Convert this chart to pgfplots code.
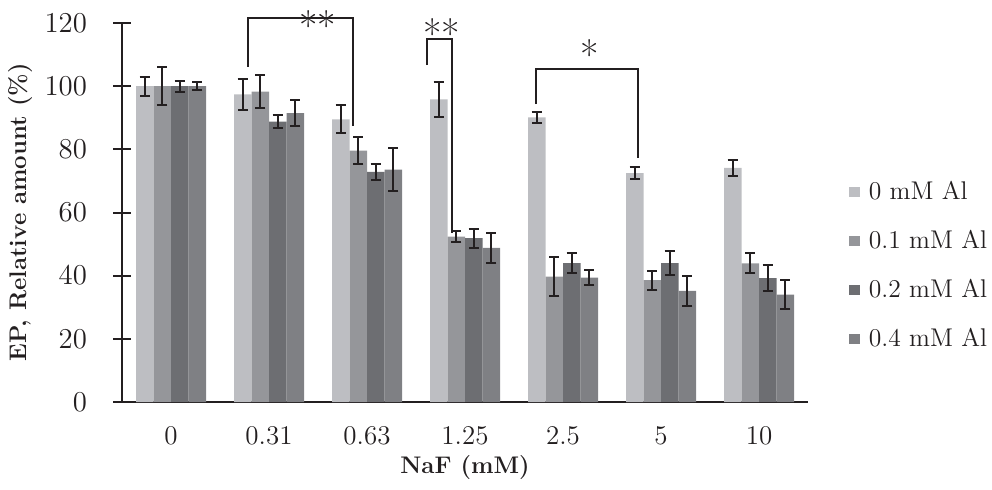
\documentclass[border=0pt]{standalone}
\usepackage{pgfplots}
\pgfplotsset{compat=1.18}

\definecolor{alA}{HTML}{BDBEC2}
\definecolor{alB}{HTML}{95969A}
\definecolor{alC}{HTML}{6D6E72}
\definecolor{alD}{HTML}{7F8084}
\definecolor{ink}{HTML}{231F20}

\pgfplotsset{errs/.style={
    error bars/.cd, y dir=both, y explicit,
    error bar style={line width=1pt, ink},
    error mark options={rotate=90, mark size=2.6pt, line width=1pt, ink}}}

\begin{document}
\begin{tikzpicture}
\begin{axis}[
    scale only axis,
    width=343pt, height=189.5pt,
    ybar=0pt, bar width=8.75pt,
    xmin=-0.5, xmax=6.5,
    ymin=0, ymax=120,
    ytick={0,20,...,120},
    xtick={0,...,6},
    xticklabels={0,0.31,0.63,1.25,2.5,5,10},
    axis x line=bottom, axis y line=left,
    axis line style={-, line width=1pt, ink},
    x tick style={draw=none},
    y tick style={line width=1pt, ink},
    tick align=center, major tick length=9pt,
    tick label style={font=\fontsize{13.5}{16}\selectfont, ink},
    yticklabel style={anchor=east, xshift=-9.5pt},
    xticklabel style={yshift=-4pt},
    xlabel={NaF (mM)}, ylabel={EP, Relative amount (\%)},
    label style={font=\fontsize{12}{14}\selectfont\bfseries, ink},
    xlabel style={at={(axis description cs:0.5,-0.172)}, anchor=center},
    ylabel style={at={(axis description cs:-0.148,0.501)}, anchor=center},
    clip=false,
    legend cell align=left,
    legend style={draw=none, fill=none, at={(rel axis cs:1.051,0.36)}, anchor=west,
        font=\fontsize{12.8}{16}\selectfont, text=ink, row sep=9.8pt,
        /tikz/every odd column/.append style={column sep=2.5pt}},
    legend image code/.code={\fill[#1] (0pt,-2.6pt) rectangle (5.2pt,2.6pt);},
]
\addplot[fill=alA, draw=none, errs] coordinates {
    (0,100) +- (0,3) (1,97.4) +- (0,5) (2,89.5) +- (0,4.4) (3,95.8) +- (0,5.6)
    (4,90.1) +- (0,1.8) (5,72.5) +- (0,1.9) (6,74.1) +- (0,2.6)};
\addlegendentry{0 mM Al}
\addplot[fill=alB, draw=none, errs] coordinates {
    (0,100) +- (0,6) (1,98.3) +- (0,5.2) (2,79.6) +- (0,4.3) (3,52.4) +- (0,1.8)
    (4,39.7) +- (0,6.1) (5,38.6) +- (0,3) (6,43.9) +- (0,3.2)};
\addlegendentry{0.1 mM Al}
\addplot[fill=alC, draw=none, errs] coordinates {
    (0,100) +- (0,1.7) (1,88.8) +- (0,2) (2,72.9) +- (0,2.6) (3,51.9) +- (0,3)
    (4,44) +- (0,3.1) (5,44) +- (0,3.9) (6,39.2) +- (0,4.2)};
\addlegendentry{0.2 mM Al}
\addplot[fill=alD, draw=none, errs] coordinates {
    (0,100) +- (0,1.3) (1,91.5) +- (0,4.2) (2,73.6) +- (0,6.8) (3,48.8) +- (0,4.8)
    (4,39.4) +- (0,2.4) (5,35.2) +- (0,4.8) (6,34) +- (0,4.5)};
\addlegendentry{0.4 mM Al}

% significance brackets
\draw[line width=1pt, ink] (axis cs:0.789,106.2) -- (axis cs:0.789,121.5)
    -- (axis cs:1.859,121.5) -- (axis cs:1.859,87.4);
\node[anchor=base, inner sep=0pt, font=\fontsize{20}{24}\selectfont, text=ink]
    at (axis cs:1.496,114.6) {**};
\draw[line width=1pt, ink] (axis cs:2.609,106.7) -- (axis cs:2.609,114.9)
    -- (axis cs:2.870,114.9) -- (axis cs:2.870,53.5);
\node[anchor=base, inner sep=0pt, font=\fontsize{20}{24}\selectfont, text=ink]
    at (axis cs:2.765,111.9) {**};
\draw[line width=1pt, ink] (axis cs:3.721,94.3) -- (axis cs:3.721,105.3)
    -- (axis cs:4.762,105.3) -- (axis cs:4.762,77.2);
\node[anchor=base, inner sep=0pt, font=\fontsize{20}{24}\selectfont, text=ink]
    at (axis cs:4.276,105.4) {*};
\end{axis}
\pgfresetboundingbox
\path ([xshift=-61pt,yshift=-43.5pt]current axis.south west)
    rectangle ([xshift=92pt,yshift=11.5pt]current axis.north east);
\end{tikzpicture}
\end{document}
